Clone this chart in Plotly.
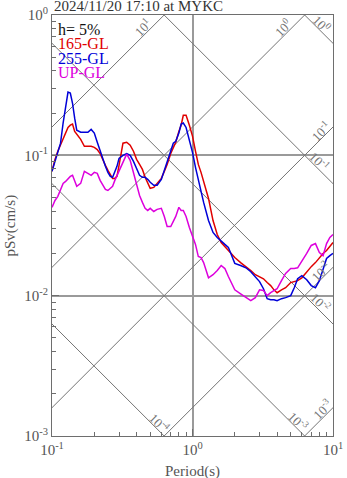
import math
import plotly.graph_objects as go

# Natural periods (s)
periods = [0.10, 0.105, 0.11, 0.115, 0.12, 0.125, 0.13, 0.135, 0.14, 0.145,
           0.15, 0.16, 0.17, 0.18, 0.19, 0.20, 0.21, 0.22, 0.23, 0.24,
           0.25, 0.26, 0.27, 0.28, 0.29, 0.30, 0.32, 0.34, 0.36, 0.38,
           0.40, 0.42, 0.44, 0.46, 0.48, 0.50, 0.53, 0.56, 0.60, 0.63,
           0.66, 0.70, 0.73, 0.76, 0.80, 0.83, 0.86, 0.90, 0.95, 1.00,
           1.05, 1.10, 1.15, 1.20, 1.30, 1.40, 1.50, 1.60, 1.70, 1.80,
           1.90, 2.0, 2.2, 2.4, 2.6, 2.8, 3.0, 3.2, 3.4, 3.6,
           3.8, 4.0, 4.3, 4.6, 5.0, 5.3, 5.6, 6.0, 6.5, 7.0,
           7.5, 8.0, 8.5, 9.0, 9.5, 10.0]

# Pseudo velocity response (cm/s), h = 5%
sv_165 = [0.0769, 0.0936, 0.107, 0.118, 0.130, 0.146, 0.158, 0.164, 0.167, 0.148,
          0.141, 0.130, 0.116, 0.116, 0.116, 0.114, 0.110, 0.103, 0.0921, 0.0848,
          0.0781, 0.0732, 0.0685, 0.0685, 0.0708, 0.0848, 0.122, 0.124, 0.118, 0.107,
          0.0936, 0.0862, 0.0794, 0.0697, 0.0642, 0.0582, 0.0591, 0.0631, 0.0685, 0.0769,
          0.0862, 0.103, 0.114, 0.124, 0.148, 0.164, 0.193, 0.193, 0.164, 0.137,
          0.107, 0.0862, 0.0756, 0.0642, 0.0493, 0.0343, 0.0273, 0.0239, 0.0224, 0.0210,
          0.0197, 0.0187, 0.0172, 0.0161, 0.0151, 0.0141, 0.0137, 0.0132, 0.0124, 0.0118,
          0.0110, 0.0105, 0.0110, 0.0114, 0.0124, 0.0126, 0.0128, 0.0134, 0.0148, 0.0161,
          0.0172, 0.0187, 0.0200, 0.0210, 0.0224, 0.0239]

sv_255 = [0.0769, 0.0906, 0.105, 0.122, 0.170, 0.224, 0.282, 0.278, 0.235, 0.184,
          0.151, 0.146, 0.146, 0.146, 0.153, 0.144, 0.124, 0.107, 0.0921, 0.0835,
          0.0756, 0.0708, 0.0697, 0.0756, 0.0835, 0.0952, 0.100, 0.103, 0.100, 0.0906,
          0.0808, 0.0720, 0.0697, 0.0697, 0.0674, 0.0642, 0.0611, 0.0611, 0.0674, 0.0781,
          0.0877, 0.105, 0.122, 0.126, 0.144, 0.167, 0.170, 0.158, 0.128, 0.105,
          0.0821, 0.0663, 0.0544, 0.0462, 0.0343, 0.0282, 0.0260, 0.0243, 0.0232, 0.0221,
          0.0190, 0.0170, 0.0164, 0.0158, 0.0148, 0.0137, 0.0126, 0.0112, 0.00952, 0.00936,
          0.00936, 0.00921, 0.00952, 0.00968, 0.0100, 0.0114, 0.0132, 0.0139, 0.0130, 0.0118,
          0.0114, 0.0128, 0.0156, 0.0184, 0.0193, 0.0200]

sv_up = [0.0426, 0.0477, 0.0510, 0.0572, 0.0631, 0.0652, 0.0685, 0.0708, 0.0720, 0.0652,
         0.0601, 0.0631, 0.0769, 0.0744, 0.0720, 0.0756, 0.0744, 0.0663, 0.0611, 0.0572,
         0.0562, 0.0582, 0.0601, 0.0663, 0.0720, 0.0756, 0.0906, 0.102, 0.0921, 0.0756,
         0.0621, 0.0518, 0.0462, 0.0419, 0.0405, 0.0419, 0.0398, 0.0412, 0.0419, 0.0367,
         0.0311, 0.0311, 0.0338, 0.0367, 0.0426, 0.0405, 0.0405, 0.0367, 0.0306, 0.0264,
         0.0232, 0.0190, 0.0187, 0.0172, 0.0134, 0.0141, 0.0151, 0.0164, 0.0156, 0.0137,
         0.0122, 0.0110, 0.0103, 0.00968, 0.00921, 0.00968, 0.0110, 0.0109, 0.0100, 0.0105,
         0.0109, 0.0112, 0.0128, 0.0144, 0.0156, 0.0156, 0.0158, 0.0175, 0.0200, 0.0228,
         0.0235, 0.0203, 0.0193, 0.0235, 0.0260, 0.0273]

series_names = ["165-GL", "255-GL", "UP-GL"]
series_colors = ["#e00000", "#0000d8", "#dd00dd"]

# Tripartite guide levels
accel_levels = [10, 1, 0.1, 0.01, 0.001]        # cm/s^2
disp_levels = [1, 0.1, 0.01, 0.001, 0.0001]     # cm

# Where each guide label sits along its line (period, s)
accel_label_T = [0.477, 4.77, 8.77, 8.77, 9.06]
disp_label_T = [7.81, 7.44, 7.56, 5.27, 0.545]

SERIF = "Liberation Serif, Times New Roman, serif"
GUIDE = "#747474"
TXT = "#555555"


def sup(v):
    return "10<sup>%d</sup>" % round(math.log10(v))


fig = go.Figure()

t_span = [0.1, 10.0]
for a in accel_levels:
    fig.add_trace(go.Scatter(x=t_span, y=[a * t / (2 * math.pi) for t in t_span],
                             mode="lines", line=dict(color=GUIDE, width=1),
                             hoverinfo="skip", showlegend=False))
for d in disp_levels:
    fig.add_trace(go.Scatter(x=t_span, y=[2 * math.pi * d / t for t in t_span],
                             mode="lines", line=dict(color=GUIDE, width=1),
                             hoverinfo="skip", showlegend=False))

for name, col, sv in zip(series_names, series_colors, [sv_165, sv_255, sv_up]):
    fig.add_trace(go.Scatter(x=periods, y=sv, mode="lines", name=name,
                             line=dict(color=col, width=1.5), showlegend=False))

ann = []
for a, t in zip(accel_levels, accel_label_T):
    ann.append(dict(x=math.log10(t), y=math.log10(a * t / (2 * math.pi)),
                    xref="x", yref="y", text=sup(a), showarrow=False,
                    textangle=-45, xshift=-4.5, yshift=4.5,
                    font=dict(family=SERIF, size=13, color=GUIDE)))
for d, t in zip(disp_levels, disp_label_T):
    ann.append(dict(x=math.log10(t), y=math.log10(2 * math.pi * d / t),
                    xref="x", yref="y", text=sup(d), showarrow=False,
                    textangle=45, xshift=4.5, yshift=4.5,
                    font=dict(family=SERIF, size=13, color=GUIDE)))

# Title and in-plot key
ann.append(dict(x=0, y=1, xref="paper", yref="paper", xanchor="left", yanchor="bottom",
                text="2024/11/20 17:10 at MYKC", showarrow=False, yshift=-1,
                font=dict(family=SERIF, size=15, color="#333333")))
key = [("h= 5%", "#111111")] + list(zip(series_names, series_colors))
for i, (txt, col) in enumerate(key):
    ann.append(dict(x=0, y=1, xref="paper", yref="paper", xanchor="left", yanchor="middle",
                    text=txt, showarrow=False, xshift=4, yshift=-14 - 14.5 * i,
                    font=dict(family=SERIF, size=16, color=col)))

# Axis titles
ann.append(dict(x=0.5, y=0, xref="paper", yref="paper", xanchor="center", yanchor="middle",
                text="Period(s)", showarrow=False, yshift=-35,
                font=dict(family=SERIF, size=15, color=TXT)))
ann.append(dict(x=0, y=0.5, xref="paper", yref="paper", xanchor="center", yanchor="middle",
                text="pSv(cm/s)", showarrow=False, xshift=-42, textangle=-90,
                font=dict(family=SERIF, size=15, color=TXT)))

x_major = [0.1, 1, 10]
y_major = [0.001, 0.01, 0.1, 1]
x_minor = [m * 10 ** e for e in (-1, 0) for m in range(2, 10)]
y_minor = [m * 10 ** e for e in (-3, -2, -1) for m in range(2, 10)]

axis_common = dict(type="log", showline=True, mirror=True, linecolor="#6e6e6e", linewidth=1.2,
                   ticks="inside", ticklen=7, tickcolor="#6e6e6e", tickwidth=1,
                   showgrid=True, gridcolor="#9a9a9a", gridwidth=1.6, zeroline=False,
                   automargin=False,
                   tickfont=dict(family=SERIF, size=15, color=TXT))

fig.update_xaxes(range=[-1, 1], tickmode="array", tickvals=x_major,
                 ticktext=[sup(v) for v in x_major],
                 minor=dict(tickmode="array", tickvals=x_minor, ticks="inside", ticklen=4,
                            tickcolor="#6e6e6e", showgrid=False),
                 **axis_common)
fig.update_yaxes(range=[-3, 0], tickmode="array", tickvals=y_major,
                 ticktext=[sup(v) for v in y_major],
                 minor=dict(tickmode="array", tickvals=y_minor, ticks="inside", ticklen=4,
                            tickcolor="#6e6e6e", showgrid=False),
                 **axis_common)

fig.update_layout(width=347, height=478, margin=dict(l=52, r=14, t=15, b=42, autoexpand=False),
                  paper_bgcolor="white", plot_bgcolor="white",
                  annotations=ann, showlegend=False)

fig.write_html("out.html")
